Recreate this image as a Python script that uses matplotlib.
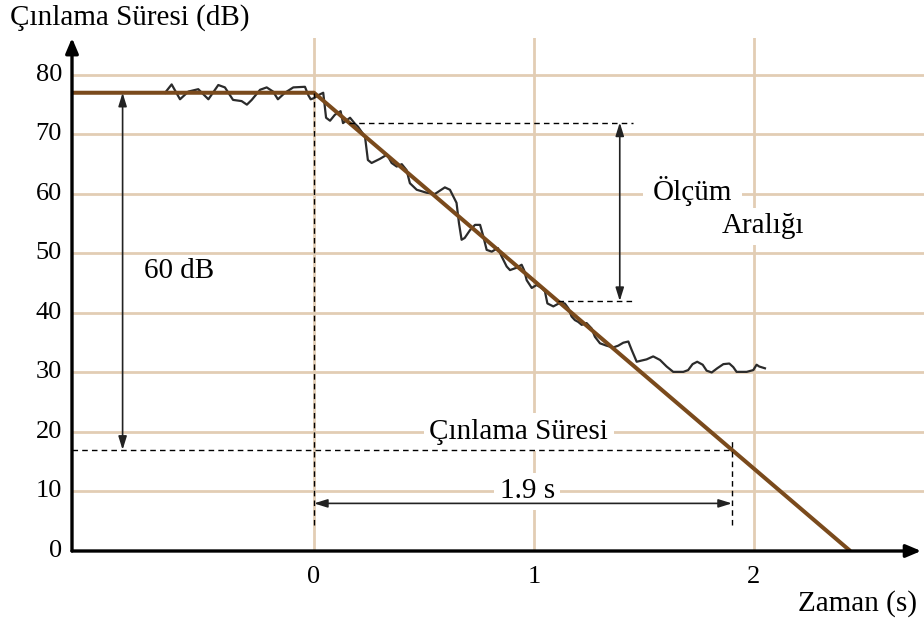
import numpy as np
import matplotlib.pyplot as plt

plt.rcParams['font.family'] = ['Liberation Serif', 'DejaVu Serif']

# ideal decay: flat level, then straight fall of 60 dB in 1.9 s
decay_t = [-1.1, 0.0, 2.438]
decay_db = [77, 77, 0]

# measured (noisy) level
meas_t = [-0.677, -0.647, -0.609, -0.571, -0.526, -0.48, -0.435, -0.405, -0.368,
          -0.329, -0.305, -0.283, -0.245, -0.215, -0.186, -0.164, -0.132, -0.094,
          -0.041, -0.026, -0.015, 0.0, 0.02, 0.042, 0.055, 0.073, 0.095, 0.121,
          0.132, 0.164, 0.186, 0.2, 0.232, 0.245, 0.262, 0.3, 0.332, 0.353, 0.376,
          0.399, 0.421, 0.436, 0.467, 0.512, 0.55, 0.595, 0.618, 0.648, 0.659,
          0.671, 0.685, 0.709, 0.732, 0.755, 0.768, 0.785, 0.808, 0.836, 0.853,
          0.876, 0.891, 0.921, 0.944, 0.955, 0.967, 0.99, 1.012, 1.035, 1.05,
          1.061, 1.088, 1.118, 1.14, 1.156, 1.171, 1.186, 1.201, 1.217, 1.239,
          1.262, 1.277, 1.3, 1.33, 1.36, 1.383, 1.406, 1.429, 1.444, 1.467, 1.489,
          1.512, 1.542, 1.573, 1.603, 1.633, 1.679, 1.701, 1.721, 1.742, 1.767,
          1.785, 1.808, 1.833, 1.861, 1.888, 1.906, 1.921, 1.967, 1.997, 2.012,
          2.024, 2.05]
meas_db = [77.0, 78.4, 75.9, 77.2, 77.6, 75.9, 78.3, 77.9, 75.8,
           75.6, 75.0, 75.8, 77.5, 77.9, 77.2, 75.9, 77.0, 77.9,
           78.0, 76.6, 75.9, 76.1, 76.6, 77.0, 72.8, 72.3, 73.3, 73.9,
           71.9, 72.8, 71.8, 71.3, 69.6, 65.7, 65.2, 65.9, 66.6, 65.2, 64.6,
           65.0, 64.0, 61.8, 60.7, 60.2, 60.0, 61.1, 60.7, 58.5, 55.1,
           52.3, 52.6, 53.9, 54.8, 54.8, 53.1, 50.6, 50.3, 50.9, 49.5,
           47.8, 47.2, 47.6, 48.1, 47.2, 45.5, 44.2, 44.7, 44.2, 43.6,
           41.6, 41.1, 41.7, 41.6, 40.8, 39.4, 38.8, 38.5, 38.0, 38.3,
           37.4, 36.0, 34.9, 34.5, 34.2, 34.5, 35.0, 35.2, 33.8, 31.8, 32.0,
           32.2, 32.7, 32.1, 31.0, 30.1, 30.1, 30.4, 31.4, 31.8, 31.3,
           30.3, 30.0, 30.7, 31.4, 31.5, 30.9, 30.1, 30.1, 30.4, 31.3,
           31.0, 30.7]

x_ticks = [0, 1, 2]
y_ticks = [0, 10, 20, 30, 40, 50, 60, 70, 80]

level = 77
t60_end = 1.9
meas_top, meas_bot = 72, 42

grid_col = '#e2cdb4'
brown = '#7a4a1c'

fig = plt.figure(figsize=(9.24, 6.18), dpi=100)
ax = fig.add_axes([72 / 924, 67 / 618, 852 / 924, 513 / 618])
ax.set_xlim(-1.1, 2.773)
ax.set_ylim(0, 86.2)
ax.axis('off')

# grid
for yv in y_ticks[1:]:
    ax.plot([-1.1, 2.773], [yv, yv], color=grid_col, lw=2, zorder=1)
for xv in x_ticks:
    ax.plot([xv, xv], [0, 86.2], color=grid_col, lw=2, zorder=1)

# axes with arrow heads
ax.annotate('', xy=(2.76, 0), xytext=(-1.1, 0),
            arrowprops=dict(arrowstyle='-|>,head_length=0.9,head_width=0.38',
                            color='black', lw=2.4, shrinkA=0, shrinkB=0),
            annotation_clip=False, zorder=6)
ax.annotate('', xy=(-1.1, 86.2), xytext=(-1.1, 0),
            arrowprops=dict(arrowstyle='-|>,head_length=0.9,head_width=0.38',
                            color='black', lw=2.4, shrinkA=0, shrinkB=0),
            annotation_clip=False, zorder=6)

# tick labels
for yv in y_ticks:
    ax.text(-1.145, yv, str(yv), ha='right', va='center', fontsize=19)
for xv in x_ticks:
    ax.text(xv, -4.3, str(xv), ha='center', va='center', fontsize=19)

fig.text(10 / 924, 1 - 18 / 618, 'Çınlama Süresi (dB)', ha='left', va='center', fontsize=21)
fig.text(917 / 924, 1 - 604 / 618, 'Zaman (s)', ha='right', va='center', fontsize=21)

# curves
ax.plot(meas_t, meas_db, color='#2b2b2b', lw=1.6, zorder=3, solid_joinstyle='round')
ax.plot(decay_t, decay_db, color=brown, lw=2.9, zorder=4, solid_capstyle='butt')

dash = dict(color='black', lw=1.0, ls=(0, (4, 3)), zorder=5)
slope = level / decay_t[-1]
ax.plot([-1.1, t60_end], [level - 60, level - 60], **dash)
ax.plot([0, 0], [4.4, level], **dash)
ax.plot([t60_end, t60_end], [4.4, 19], **dash)
ax.plot([(level - meas_top) / slope, 1.45], [meas_top, meas_top], **dash)
ax.plot([(level - meas_bot) / slope, 1.45], [meas_bot, meas_bot], **dash)

arr = dict(arrowstyle='<|-|>,head_length=0.8,head_width=0.25', color='#222222',
           lw=1.2, shrinkA=0, shrinkB=0)
ax.annotate('', xy=(-0.87, level), xytext=(-0.87, level - 60), arrowprops=arr, zorder=5)
ax.annotate('', xy=(1.39, meas_top), xytext=(1.39, meas_bot), arrowprops=arr, zorder=5)
ax.annotate('', xy=(0, 8), xytext=(t60_end, 8), arrowprops=arr, zorder=5)

# labels sit on white boxes that cut the grid, but stay under the other marks
box = dict(facecolor='white', edgecolor='none', pad=4)
ax.text(-0.615, 47, '60 dB', ha='center', va='center', fontsize=21)
ax.text(0.93, 20, 'Çınlama Süresi', ha='center', va='center', fontsize=21, bbox=box, zorder=2)
ax.text(0.97, 10, '1.9 s', ha='center', va='center', fontsize=21, bbox=box, zorder=2)
ax.text(1.72, 60.5, 'Ölçüm', ha='center', va='center', fontsize=21,
        bbox=dict(facecolor='white', edgecolor='none', pad=7), zorder=2)
ax.text(2.04, 54.6, 'Aralığı', ha='center', va='center', fontsize=21, bbox=box, zorder=2)

fig.savefig('out.png', dpi=100, facecolor='white')
